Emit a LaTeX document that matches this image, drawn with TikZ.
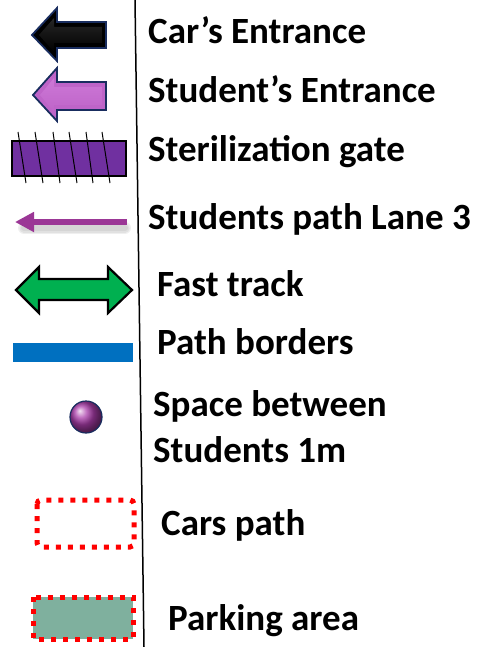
\documentclass[tikz,border=0pt]{standalone}
\usepackage{fontspec}
\setmainfont{Carlito}
\usetikzlibrary{arrows.meta}
\definecolor{navyedge}{RGB}{25,45,95}
\definecolor{gatepurple}{RGB}{112,48,160}
\definecolor{lanepurple}{RGB}{155,55,150}
\definecolor{fastgreen}{RGB}{0,176,80}
\definecolor{borderblue}{RGB}{0,112,192}
\definecolor{parkgreen}{RGB}{127,176,158}
\definecolor{dotred}{RGB}{255,0,0}
\definecolor{ballpurple}{RGB}{170,60,170}
\definecolor{pinkA}{RGB}{190,100,200}
\definecolor{pinkB}{RGB}{250,185,250}
\definecolor{pinkC}{RGB}{205,120,215}
\tikzset{
  legtext/.style={anchor=base west, inner sep=0pt, font=\fontsize{37}{44}\selectfont\bfseries},
  dotbox/.style={draw=dotred, line width=5pt, dash pattern=on 5pt off 7pt},
}
\begin{document}
\begin{tikzpicture}[x=1pt,y=-1pt]
\useasboundingbox (0,0) rectangle (479,647);
\fill[white] (0,0) rectangle (479,647);
% divider
\draw[line width=1.5pt, black] (135,0) -- (144,647);
% car's entrance arrow
\filldraw[fill=black, draw=navyedge, line width=1.8pt, line join=miter]
  (32,35) -- (57,8) -- (57,22) -- (106,22) -- (106,48) -- (57,48) -- (57,61) -- cycle;
\shade[top color=black!85, middle color=black!70, bottom color=black]
  (39,35) -- (54,18) -- (54,27) -- (102,27) -- (102,43) -- (54,43) -- (54,52) -- cycle;
% student's entrance arrow
\filldraw[fill=pinkA, draw=navyedge, line width=1.8pt, line join=miter]
  (33,95) -- (57,68) -- (57,82) -- (106,82) -- (106,110) -- (57,110) -- (57,121) -- cycle;
\shade[top color=pinkC, middle color=pinkB, bottom color=pinkA]
  (40,95) -- (54,78) -- (54,87) -- (102,87) -- (102,105) -- (54,105) -- (54,112) -- cycle;
% sterilization gate
\filldraw[fill=gatepurple, draw=black, line width=2.2pt] (12,141) rectangle (126,176);
\foreach \a/\b in {18/26,35/43,53/60,69/77,86/93,102/110}
  \draw[black, line width=1pt] (\a,132) -- (\b,183);
% students path lane 3 (soft shadow)
\foreach \w in {12,9,6}
  \draw[gray, opacity=0.12, line width=\w pt, line cap=round] (125,228) -- (24,228);
\draw[lanepurple, line width=6pt, -{Triangle[length=19pt,width=19pt]}] (127,222) -- (15,222);
% fast track
\filldraw[fill=fastgreen, draw=black, line width=2.2pt, line join=miter]
  (16,290) -- (39,267) -- (39,279) -- (108,279) -- (108,267) -- (132,290)
  -- (108,313) -- (108,300) -- (39,300) -- (39,313) -- cycle;
% path borders
\fill[borderblue] (13,343) rectangle (133,362);
% ball
\shade[ball color=ballpurple] (86,417) circle[radius=16pt];
\draw[navyedge, line width=1.2pt] (86,417) circle[radius=16pt];
% cars path
\draw[dotbox, rounded corners=4pt] (37,500) rectangle (134,547);
% parking area
\fill[parkgreen] (33,597) rectangle (133,639);
\draw[dotbox] (33,597) rectangle (133,639);
% texts
\node[legtext] (t1) at (148,44) {Car’s Entrance};
\node[legtext] (t2) at (148,103) {Student’s Entrance};
\node[legtext] (t3) at (148,162) {Sterilization gate};
\node[legtext] (t4) at (148,229) {Students path Lane 3};
\node[legtext] (t5) at (157,296) {Fast track};
\node[legtext] (t6) at (157,354) {Path borders};
\node[legtext] (t7) at (153,416) {Space between};
\node[legtext] (t8) at (153,462) {Students 1m};
\node[legtext] (t9) at (161,535) {Cars path};
\node[legtext] (t10) at (168,630) {Parking area};
\end{tikzpicture}
\end{document}
